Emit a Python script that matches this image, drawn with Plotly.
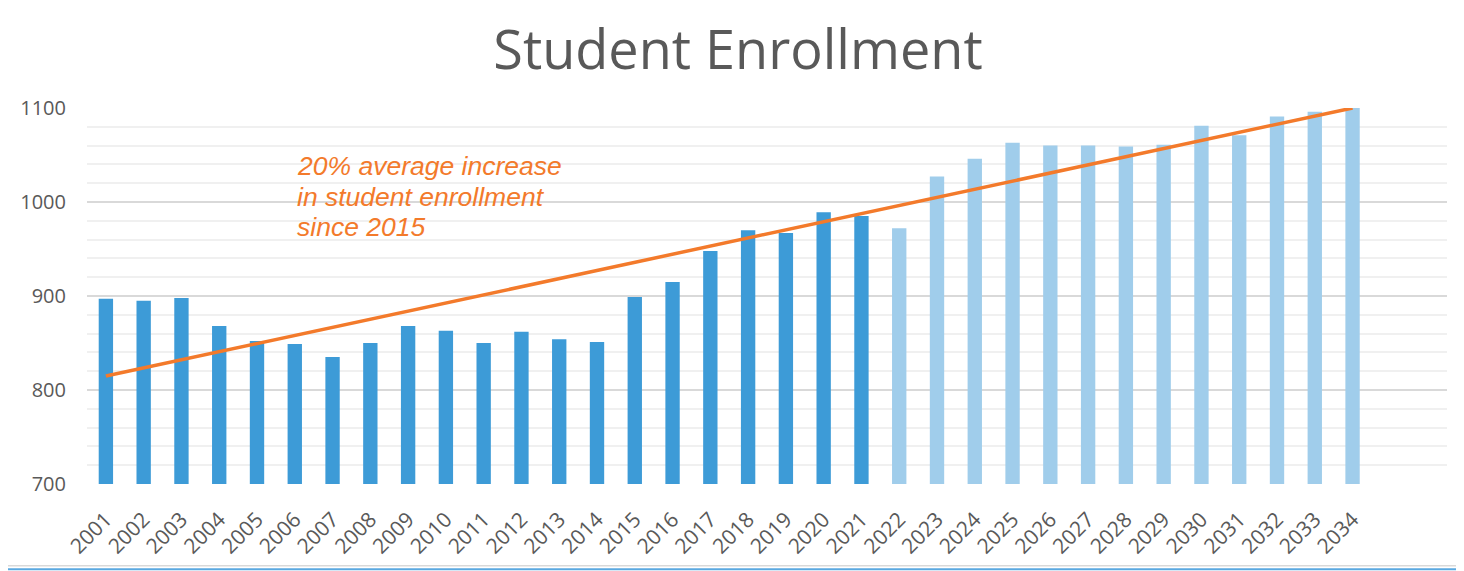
import numpy as np
import plotly.graph_objects as go

# ---- data ----
actual_years = [2001, 2002, 2003, 2004, 2005, 2006, 2007, 2008, 2009, 2010, 2011,
                2012, 2013, 2014, 2015, 2016, 2017, 2018, 2019, 2020, 2021]
actual_values = [897, 895, 898, 868, 852, 849, 835, 850, 868, 863, 850,
                 862, 854, 851, 899, 915, 948, 970, 967, 989, 985]
projected_years = [2022, 2023, 2024, 2025, 2026, 2027, 2028, 2029, 2030, 2031,
                   2032, 2033, 2034]
projected_values = [972, 1027, 1046, 1063, 1060, 1060, 1059, 1061, 1081, 1071,
                    1091, 1096, 1100]
tick_labels = [str(y) for y in actual_years + projected_years]
y_ticks = [700, 800, 900, 1000, 1100]
note_lines = ["20% average increase", "in student enrollment", "since 2015"]
title_text = "Student Enrollment"

# linear (least-squares) trendline through all bars, as Excel draws it
all_years = np.array(actual_years + projected_years, dtype=float)
all_values = np.array(actual_values + projected_values, dtype=float)
slope, intercept = np.polyfit(all_years, all_values, 1)
trend_x = [all_years[0], all_years[-1]]
trend_y = [slope * x + intercept for x in trend_x]

# the page body adds an 8px offset; figure coordinates = page coordinates - 8
OFF = 8
W, H = 1464 - OFF, 571 - OFF
L, T = 87 - OFF, 108 - OFF
R = W - (1447 - OFF)
B = H - (484.3 - OFF)
pw, ph = W - L - R, H - T - B


def px(x):  # page pixel -> paper x
    return (x - OFF - L) / pw


def py(y):  # page pixel -> paper y
    return (H - B - (y - OFF)) / ph


DARK = "#3D9BD7"
LIGHT = "#A0CDEB"
ORANGE = "#F37A2B"
TXT = "#595959"

fig = go.Figure()
fig.add_trace(go.Bar(x=actual_years, y=actual_values, width=0.38,
                     marker=dict(color=DARK, line=dict(width=0)), name="Actual"))
fig.add_trace(go.Bar(x=projected_years, y=projected_values, width=0.38,
                     marker=dict(color=LIGHT, line=dict(width=0)), name="Projected"))
fig.add_trace(go.Scatter(x=trend_x, y=trend_y, mode="lines",
                         line=dict(color=ORANGE, width=3.5), name="Trend",
                         cliponaxis=True))

# note text, one line per annotation
note_y = [166, 197.5, 227.5]
for line, yy in zip(note_lines, note_y):
    fig.add_annotation(text=line, xref="paper", yref="paper",
                       x=px(295), y=py(yy), xanchor="left", yanchor="middle",
                       showarrow=False,
                       font=dict(family="Liberation Sans", size=26.5, color=ORANGE,
                                 style="italic"))

# chart frame lines (right and bottom edges)
fig.add_shape(type="line", xref="paper", yref="paper", x0=px(8), x1=px(1460),
              y0=py(566), y1=py(566), line=dict(color="#D9D9D9", width=1.5))
for (x0, y0, x1, y1) in [(8, 569.5, 1464, 569.5), (1461, 8, 1461, 571)]:
    fig.add_shape(type="line", xref="paper", yref="paper", x0=px(x0), x1=px(x1),
                  y0=py(y0), y1=py(y1), line=dict(color="#5AA8E0", width=2))

fig.update_layout(
    width=W, height=H,
    margin=dict(l=L, r=R, t=T, b=B, autoexpand=False),
    paper_bgcolor="white", plot_bgcolor="white",
    showlegend=False,
    barmode="overlay",
    title=dict(text=title_text, x=(738 - OFF) / W, xref="container", xanchor="center",
               y=1 - (50 - OFF) / H, yref="container", yanchor="middle",
               font=dict(family="Open Sans", size=54, color=TXT)),
    font=dict(family="Open Sans", color=TXT),
)
fig.update_xaxes(range=[2000.5, 2036.5], tickmode="array",
                 tickvals=actual_years + projected_years, ticktext=tick_labels,
                 tickangle=-45, tickfont=dict(size=21, color=TXT, family="Open Sans"),
                 showgrid=False, zeroline=False, showline=False, ticks="",
                 automargin=False, ticklabelstandoff=18)
fig.update_yaxes(range=[700, 1100], tickmode="array", tickvals=y_ticks,
                 tickfont=dict(size=20, color=TXT, family="Open Sans"),
                 showgrid=True, gridcolor="#D9D9D9", gridwidth=1.5,
                 minor=dict(dtick=20, showgrid=True, gridcolor="#F0F0F0", gridwidth=1.5),
                 zeroline=False, showline=False, ticks="", ticklabelstandoff=20,
                 automargin=False)

fig.write_html("out.html")
